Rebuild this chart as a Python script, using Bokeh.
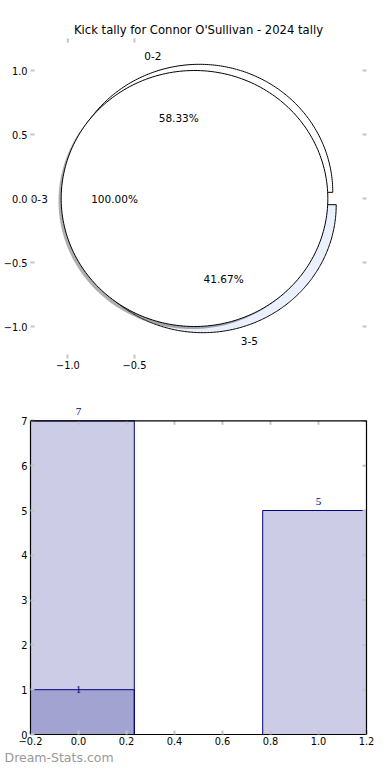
import numpy as np
from bokeh.plotting import figure
from bokeh.models import (Range1d, FixedTicker, ColumnDataSource, Title,
                          CustomJSTickFormatter, LabelSet, LinearAxis, Span)
from bokeh.layouts import column
from bokeh.core.properties import value
from bokeh.embed import file_html
from bokeh.resources import INLINE

# ---------------- data ----------------
title_text = "Kick tally for Connor O'Sullivan - 2024 tally"

outer_labels = ["0-2", "3-5"]
outer_counts = [7, 5]
inner_labels = ["0-3"]
inner_counts = [1]

bar_x = [0, 1]
bar_totals = [7, 5]
bar_sub_x = [0]
bar_sub = [1]

pie_yticks = [-1.0, -0.5, 0.0, 0.5, 1.0]
pie_xticks = [-1.0, -0.5]
bar_xticks = [-0.2, 0.0, 0.2, 0.4, 0.6, 0.8, 1.0, 1.2]
bar_yticks = [0, 1, 2, 3, 4, 5, 6, 7]

watermark = "Dream-Stats.com"

# ---------------- styles ----------------
FONT = "DejaVu Sans"
EXPLODE = 0.05
outer_colors = ["#ffffff", "#eaf0fc"]
inner_colors = ["#ffffff"]
TICK_COLOR = "#c4c4c4"
TICK_LEN = 4


def fmt(dec):
    return CustomJSTickFormatter(args=dict(d=dec),
                                 code="return tick.toFixed(d).replace('-', '\u2212');")


def style_axis(ax, ticks, dec):
    ax.ticker = FixedTicker(ticks=ticks)
    ax.formatter = fmt(dec)
    ax.major_tick_in = TICK_LEN
    ax.major_tick_out = 0
    ax.minor_tick_line_color = None
    ax.axis_line_color = None
    ax.major_tick_line_color = TICK_COLOR
    ax.major_tick_line_width = 2
    ax.major_label_text_font = FONT
    ax.major_label_text_font_size = "9.8px"
    ax.major_label_text_color = "black"
    ax.major_label_standoff = 3


def pie_geometry(counts, start=0.0, explode=EXPLODE):
    total = float(sum(counts))
    fr = np.array(counts, dtype=float) / total
    edges = start + np.concatenate([[0.0], np.cumsum(fr)]) * 2 * np.pi
    xs, ys, lx, ly, la, px, py, pt = [], [], [], [], [], [], [], []
    for i, f in enumerate(fr):
        a0, a1 = edges[i], edges[i + 1]
        mid = 0.5 * (a0 + a1)
        cx, cy = explode * np.cos(mid), explode * np.sin(mid)
        th = np.linspace(a0, a1, 240)
        if f >= 0.999999:
            xs.append(cx + np.cos(th))
            ys.append(cy + np.sin(th))
        else:
            xs.append(np.concatenate([[cx], cx + np.cos(th), [cx]]))
            ys.append(np.concatenate([[cy], cy + np.sin(th), [cy]]))
        tx, ty = cx + 1.1 * np.cos(mid), cy + 1.1 * np.sin(mid)
        lx.append(tx)
        ly.append(ty)
        la.append("left" if tx > 0 else "right")
        px.append(cx + 0.6 * np.cos(mid))
        py.append(cy + 0.6 * np.sin(mid))
        pt.append("%.2f%%" % (f * 100))
    return xs, ys, lx, ly, la, px, py, pt


BORDER_L, BORDER_R = 27, 8

# ---------------- pie figure ----------------
P1_W, P1_H = 374, 382
P1_T, P1_B = 38, 24
p1 = figure(width=P1_W, height=P1_H, output_backend="svg", toolbar_location=None,
            x_range=Range1d(-1.28, 1.24), y_range=Range1d(-1.25, 1.25),
            min_border_left=BORDER_L, min_border_right=BORDER_R,
            min_border_top=P1_T, min_border_bottom=P1_B)
p1.xgrid.visible = False
p1.ygrid.visible = False
p1.outline_line_color = None
p1.background_fill_color = "white"
p1.border_fill_color = "white"
p1.title.text = title_text
p1.title.align = "center"
p1.title.text_font = FONT
p1.title.text_font_size = "11.6px"
p1.title.text_font_style = "normal"
p1.title.text_color = "black"
p1.title.standoff = 3

style_axis(p1.xaxis[0], pie_xticks, 1)
p1.xaxis[0].major_label_standoff = 2
style_axis(p1.yaxis[0], pie_yticks, 1)

oxs, oys, olx, oly, ola, opx, opy, opt = pie_geometry(outer_counts)
ixs, iys, ilx, ily, ila, ipx, ipy, ipt = pie_geometry(inner_counts)

p1.patches(xs=oxs, ys=oys, fill_color=outer_colors, line_color="black",
           line_width=1)
# shadow of the full pie
p1.patches(xs=[x - 0.02 for x in ixs], ys=[y - 0.02 for y in iys],
           fill_color="#4d4d4d", fill_alpha=0.45, line_color=None)
p1.patches(xs=ixs, ys=iys, fill_color=inner_colors, line_color="black",
           line_width=1)

lab_src = ColumnDataSource(dict(x=olx + ilx, y=oly + ily,
                                t=outer_labels + inner_labels, a=ola + ila))
p1.text(x="x", y="y", text="t", text_align="a", text_baseline="middle",
        source=lab_src, text_font=value(FONT), text_font_size="10.5px",
        text_color="black")
pct_src = ColumnDataSource(dict(x=opx + ipx, y=opy + ipy, t=opt + ipt))
p1.text(x="x", y="y", text="t", text_align="center", text_baseline="middle",
        source=pct_src, text_font=value(FONT), text_font_size="10.5px",
        text_color="black")

# inward tick marks on top and right edges (half of each dash is clipped by the frame)
p1.scatter(x=pie_xticks, y=[p1.y_range.end] * len(pie_xticks), marker="dash",
           size=2 * TICK_LEN, angle=np.pi / 2, line_color=TICK_COLOR, line_width=2)
p1.scatter(x=[p1.x_range.end] * len(pie_yticks), y=pie_yticks, marker="dash",
           size=2 * TICK_LEN, line_color=TICK_COLOR, line_width=2)

# ---------------- bar figure ----------------
P2_W, P2_H = 374, 382
P2_T, P2_B = 16, 27
y_top = max(bar_yticks)
p2 = figure(width=P2_W, height=P2_H, output_backend="svg", toolbar_location=None,
            x_range=Range1d(-0.2, 1.2), y_range=Range1d(0, 7.5),
            min_border_left=BORDER_L, min_border_right=BORDER_R,
            min_border_top=P2_T, min_border_bottom=P2_B)
p2.xgrid.visible = False
p2.ygrid.visible = False
p2.outline_line_color = None
p2.background_fill_color = "white"
p2.border_fill_color = "white"
style_axis(p2.xaxis[0], bar_xticks, 1)
style_axis(p2.yaxis[0], bar_yticks, 0)
p2.xaxis[0].major_label_standoff = 2
p2.xaxis[0].axis_line_color = "black"
p2.xaxis[0].axis_line_width = 1.2
p2.yaxis[0].bounds = (0, y_top)
p2.yaxis[0].axis_line_color = "black"
p2.yaxis[0].axis_line_width = 1.2

BAR_W = 0.465
p2.vbar(x=bar_x, top=bar_totals, width=BAR_W, bottom=0, fill_color="navy",
        fill_alpha=0.2, line_color="navy", line_width=1)
p2.vbar(x=bar_sub_x, top=bar_sub, width=BAR_W, bottom=0, fill_color="navy",
        fill_alpha=0.2, line_color="navy", line_width=1)

# box: top edge at the last y tick, right edge as an axis line
p2.add_layout(Span(location=y_top, dimension="width", line_color="black",
                   line_width=1.2))
r_ax = LinearAxis(ticker=FixedTicker(ticks=[]), bounds=(0, y_top),
                  axis_line_color="black", axis_line_width=1.2,
                  major_tick_line_color=None, minor_tick_line_color=None,
                  major_label_text_font_size="9.8px")
p2.add_layout(r_ax, "right")

# inward tick marks on top and right edges of the box
frame_h = P2_H - P2_T - P2_B
units_per_px = (p2.y_range.end - p2.y_range.start) / frame_h
p2.segment(x0=bar_xticks, y0=[y_top] * len(bar_xticks), x1=bar_xticks,
           y1=[y_top - TICK_LEN * units_per_px] * len(bar_xticks),
           line_color=TICK_COLOR, line_width=2)
p2.scatter(x=[p2.x_range.end] * len(bar_yticks), y=bar_yticks, marker="dash",
           size=2 * TICK_LEN, line_color=TICK_COLOR, line_width=2)

tot_src = ColumnDataSource(dict(x=bar_x, y=bar_totals,
                                t=[str(v) for v in bar_totals]))
p2.add_layout(LabelSet(x="x", y="y", text="t", source=tot_src, y_offset=9,
                       text_align="center", text_baseline="middle",
                       text_font=FONT, text_font_size="11px",
                       text_color="navy"))
sub_src = ColumnDataSource(dict(x=bar_sub_x, y=bar_sub,
                                t=[str(v) for v in bar_sub]))
p2.add_layout(LabelSet(x="x", y="y", text="t", source=sub_src,
                       text_align="center", text_baseline="middle",
                       text_font=FONT, text_font_size="11px",
                       text_color="navy"))

p2.add_layout(Title(text=watermark, align="left", text_color="#999999",
                    text_font_size="12.5px", text_font=FONT,
                    text_font_style="normal", offset=-(BORDER_L - 1), standoff=0),
              "below")

root = column(p1, p2)
open("out.html", "w").write(file_html(root, INLINE))
